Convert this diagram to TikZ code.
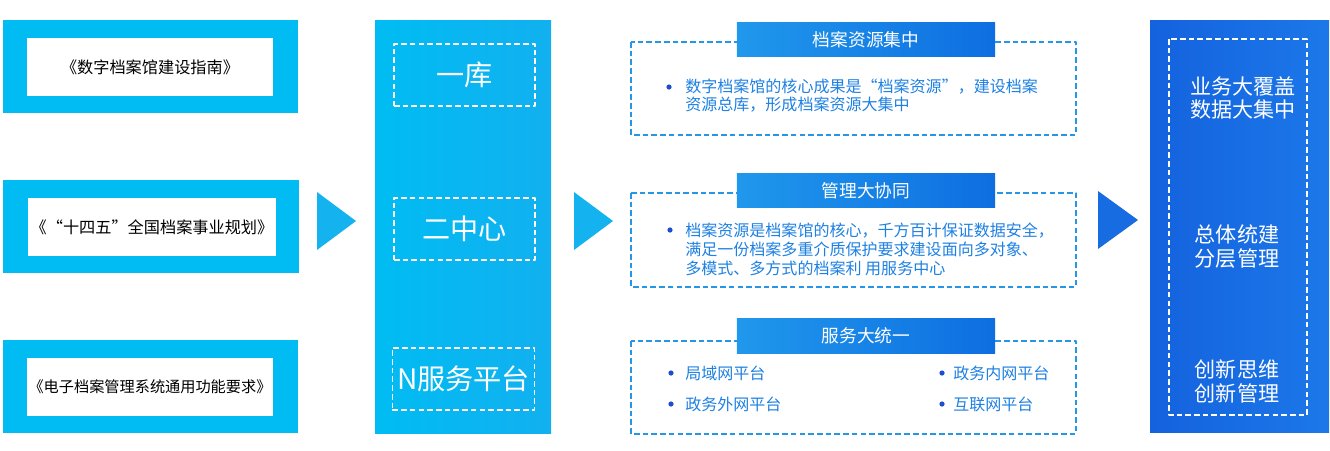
\documentclass[tikz,border=0pt]{standalone}
\usepackage{fontspec}
\setmainfont{Noto Sans CJK SC}
\usetikzlibrary{calc}
\definecolor{framecyan}{RGB}{0,188,242}
\definecolor{colcyanL}{RGB}{0,188,243}
\definecolor{colcyanR}{RGB}{18,176,239}
\definecolor{arrowcyan}{RGB}{20,178,238}
\definecolor{headL}{RGB}{32,152,236}
\definecolor{headR}{RGB}{14,110,225}
\definecolor{dashblue}{RGB}{40,150,230}
\definecolor{textblue}{RGB}{30,128,226}
\definecolor{dotblue}{RGB}{30,78,208}
\definecolor{colblueL}{RGB}{20,98,222}
\definecolor{colblueR}{RGB}{28,120,233}
\definecolor{arrowblue}{RGB}{24,108,226}
\tikzset{doc/.style={font=\fontsize{11.5}{13}\selectfont,text=black}}
\tikzset{hub/.style={draw=white,dash pattern=on 4pt off 2.2pt,line width=1pt,minimum width=3.525cm,minimum height=1.55cm,text=white,font=\fontsize{20}{22}\selectfont}}
\tikzset{head/.style={left color=headL,right color=headR,minimum width=6.45cm,minimum height=0.87cm,text=white,font=\fontsize{12.6}{14}\selectfont}}
\tikzset{txt/.style={anchor=west,align=left,inner sep=0pt,text=textblue,font=\fontsize{11.4}{13.4}\selectfont}}
\tikzset{big/.style={align=center,text=white,font=\fontsize{15}{17}\selectfont}}
\tikzset{panel/.style={draw=dashblue,dash pattern=on 4pt off 2.2pt,line width=1pt}}

\begin{document}
\begin{tikzpicture}[x=0.025cm,y=-0.025cm,line join=round]
  \useasboundingbox (0,0) rectangle (1330,450);
  % left column
  \fill[framecyan] (3,20) rectangle (298,113);
  \fill[white] (27,38) rectangle (273,96);
  \fill[framecyan] (3,180) rectangle (299,273);
  \fill[white] (28,198) rectangle (276,256);
  \fill[framecyan] (3,340) rectangle (298,433);
  \fill[white] (27,358) rectangle (273,416);
  \node[doc] (D1) at (150,67) {《数字档案馆建设指南》};
  \node[doc] (D2) at (152,227) {《“十四五”全国档案事业规划》};
  \node[doc,font=\fontsize{10.8}{13}\selectfont] (D3) at (150,387) {《电子档案管理系统通用功能要求》};
  \fill[arrowcyan] (317,192) -- (356,221) -- (317,250) -- cycle;
  % middle column
  \shade[left color=colcyanL,right color=colcyanR] (375,20) rectangle (551,433);
  \node[hub] (K1) at (464.5,75) {一库};
  \node[hub] (K2) at (464.5,229) {二中心};
  \node[hub] (K3) at (463.5,379) {N服务平台};
  \fill[arrowcyan] (574,192) -- (613,221) -- (574,250) -- cycle;
  % right panel
  \draw[panel] (631,42) rectangle (1076,135);
  \draw[panel] (631,193) rectangle (1076,287);
  \draw[panel] (631,341) rectangle (1076,434);
  \node[head] (H1) at (866,39.5) {档案资源集中};
  \node[head] (H2) at (866,190.5) {管理大协同};
  \node[head] (H3) at (866,336) {服务大统一};
  \foreach \p in {(669,87),(670,230),(671,373),(671,404),(942,373),(942,404)}
    \fill[dotblue] \p circle (2.6);
  \node[txt] (P1) at (685,95.5) {数字档案馆的核心成果是“档案资源”，建设档案\\资源总库，形成档案资源大集中};
  \node[txt] (P2) at (685,249.5) {档案资源是档案馆的核心，千方百计保证数据安全，\\满足一份档案多重介质保护要求建设面向多对象、\\多模式、多方式的档案利 用服务中心};
  \node[txt] (S1) at (685,373) {局域网平台};
  \node[txt] (S2) at (685,404) {政务外网平台};
  \node[txt] (S3) at (953,373) {政务内网平台};
  \node[txt] (S4) at (953,404) {互联网平台};
  \fill[arrowblue] (1098,191) -- (1138,220) -- (1098,249) -- cycle;
  % right column
  \shade[left color=colblueL,right color=colblueR] (1150,20) rectangle (1329,432);
  \draw[draw=white,dash pattern=on 4pt off 2.2pt,line width=1pt] (1169,39) rectangle (1307,415);
  \node[big] (R1) at (1243,98) {业务大覆盖\\数据大集中};
  \node[big] (R2) at (1237,246.5) {总体统建\\分层管理};
  \node[big] (R3) at (1237,381) {创新思维\\创新管理};
\end{tikzpicture}
\end{document}
